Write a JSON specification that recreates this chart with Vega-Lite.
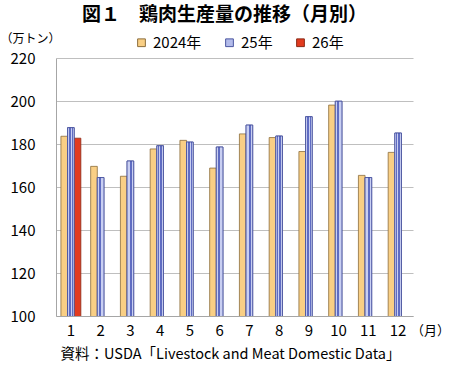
{
  "$schema": "https://vega.github.io/schema/vega-lite/v6.json",
  "width": 357,
  "height": 258,
  "autosize": {"type": "none"},
  "padding": {"left": 56, "top": 58, "right": 37, "bottom": 53},
  "background": "white",
  "config": {
    "font": "Noto Sans CJK JP",
    "view": {"stroke": null}
  },
  "title": {
    "text": "資料：USDA「Livestock and Meat Domestic Data」",
    "orient": "bottom",
    "anchor": "middle",
    "dx": -4,
    "offset": 10,
    "fontSize": 14.5,
    "fontWeight": "normal",
    "color": "#000000",
    "font": "Noto Sans CJK JP"
  },
  "data": {
    "values": [
      {"month": "1", "series": "2024年", "value": 183.6},
      {"month": "1", "series": "25年", "value": 187.6},
      {"month": "1", "series": "26年", "value": 182.7},
      {"month": "2", "series": "2024年", "value": 169.6},
      {"month": "2", "series": "25年", "value": 164.4},
      {"month": "3", "series": "2024年", "value": 165.0},
      {"month": "3", "series": "25年", "value": 172.1},
      {"month": "4", "series": "2024年", "value": 177.7},
      {"month": "4", "series": "25年", "value": 179.2},
      {"month": "5", "series": "2024年", "value": 181.7},
      {"month": "5", "series": "25年", "value": 180.9},
      {"month": "6", "series": "2024年", "value": 168.8},
      {"month": "6", "series": "25年", "value": 178.6},
      {"month": "7", "series": "2024年", "value": 184.7},
      {"month": "7", "series": "25年", "value": 188.8},
      {"month": "8", "series": "2024年", "value": 183.0},
      {"month": "8", "series": "25年", "value": 183.7},
      {"month": "9", "series": "2024年", "value": 176.5},
      {"month": "9", "series": "25年", "value": 192.7},
      {"month": "10", "series": "2024年", "value": 198.1},
      {"month": "10", "series": "25年", "value": 199.9},
      {"month": "11", "series": "2024年", "value": 165.4},
      {"month": "11", "series": "25年", "value": 164.4},
      {"month": "12", "series": "2024年", "value": 176.1},
      {"month": "12", "series": "25年", "value": 185.1}
    ]
  },
  "encoding": {
    "xOffset": {
      "field": "series",
      "type": "nominal",
      "scale": {"domain": ["2024年", "25年", "26年"], "paddingInner": 0, "paddingOuter": 0}
    },
    "y": {
      "field": "value",
      "type": "quantitative",
      "scale": {"domain": [100, 220], "nice": false, "zero": false},
      "axis": {
        "values": [100, 120, 140, 160, 180, 200, 220],
        "title": "（万トン）",
        "titleAngle": 0,
        "titleX": -26,
        "titleY": -20,
        "titleAlign": "center",
        "titleBaseline": "middle",
        "titleFontSize": 12,
        "titleFontWeight": "normal",
        "titleColor": "#000000",
        "labelFontSize": 15,
        "labelColor": "#000000",
        "labelPadding": 21,
        "ticks": false,
        "domain": true,
        "domainColor": "#a6a6a6",
        "grid": true,
        "gridColor": "#bfbfbf",
        "gridWidth": 1
      }
    }
  },
  "layer": [
    {
      "mark": {"type": "bar", "strokeWidth": 0.8, "clip": true},
      "encoding": {
        "x": {
          "field": "month",
          "type": "nominal",
          "sort": ["1","2","3","4","5","6","7","8","9","10","11","12"],
          "scale": {"paddingInner": 0.33, "paddingOuter": 0.165},
          "axis": {
            "orient": "bottom",
            "labelFontSize": 15,
            "labelColor": "#000000",
            "labelPadding": 7,
            "labelAngle": 0,
            "ticks": false,
            "domain": true,
            "domainColor": "#a6a6a6",
            "grid": false,
            "title": "（月）",
            "titleX": 374,
            "titleY": 14,
            "titleAlign": "center",
            "titleBaseline": "middle",
            "titleFontSize": 13,
            "titleFontWeight": "normal",
            "titleColor": "#000000"
          }
        },
        "color": {
          "field": "series",
          "type": "nominal",
          "scale": {"domain": ["2024年", "25年", "26年"], "range": ["#f9cf85", "#b3bbea", "#e23b1f"]},
          "legend": {
            "orient": "none",
            "legendX": 78,
            "legendY": -23,
            "direction": "horizontal",
            "title": null,
            "symbolType": "square",
            "symbolSize": 60,
            "symbolStrokeWidth": 1,
            "labelFontSize": 15,
            "labelColor": "#000000",
            "labelOffset": 4,
            "columnPadding": 20
          }
        },
        "stroke": {
          "field": "series",
          "type": "nominal",
          "scale": {"domain": ["2024年", "25年", "26年"], "range": ["#8c6d3c", "#4b56a0", "#8a2a16"]},
          "legend": null
        }
      }
    },
    {
      "transform": [{"filter": "datum.series === '25年'"}],
      "mark": {
        "type": "bar",
        "clip": true,
        "strokeWidth": 0.8,
        "stroke": "#3f4a98",
        "fill": {
          "gradient": "linear",
          "x1": 0, "x2": 1, "y1": 0, "y2": 0,
          "stops": [
            {"offset": 0, "color": "#c9cff2"},
            {"offset": 0.22, "color": "#c9cff2"},
            {"offset": 0.22, "color": "#5f6cc2"},
            {"offset": 0.34, "color": "#5f6cc2"},
            {"offset": 0.34, "color": "#c9cff2"},
            {"offset": 0.44, "color": "#c9cff2"},
            {"offset": 0.44, "color": "#5f6cc2"},
            {"offset": 0.56, "color": "#5f6cc2"},
            {"offset": 0.56, "color": "#c9cff2"},
            {"offset": 0.66, "color": "#c9cff2"},
            {"offset": 0.66, "color": "#5f6cc2"},
            {"offset": 0.78, "color": "#5f6cc2"},
            {"offset": 0.78, "color": "#c9cff2"},
            {"offset": 1, "color": "#c9cff2"}
          ]
        }
      },
      "encoding": {
        "x": {
          "field": "month",
          "type": "nominal",
          "sort": ["1","2","3","4","5","6","7","8","9","10","11","12"],
          "axis": {
            "orient": "top",
            "labels": false,
            "ticks": false,
            "domain": false,
            "grid": false,
            "title": "図１　鶏肉生産量の推移（月別）",
            "titleX": 168,
            "titleY": -44,
            "titleAlign": "center",
            "titleBaseline": "middle",
            "titleFontSize": 19,
            "titleFontWeight": "bold",
            "titleColor": "#000000"
          }
        }
      }
    }
  ],
  "resolve": {"axis": {"x": "independent"}}
}
